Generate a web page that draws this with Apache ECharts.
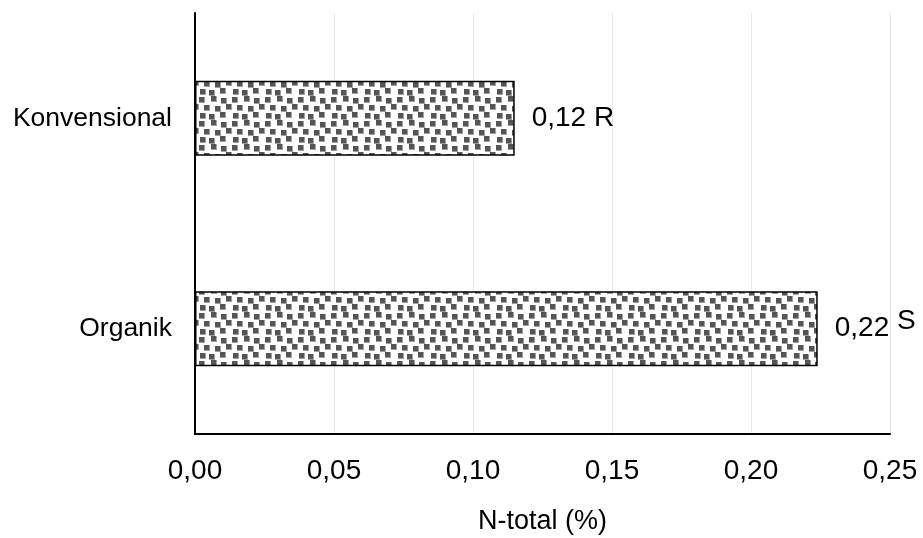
<!DOCTYPE html>
<html>
<head>
<meta charset="utf-8">
<script src="https://cdn.jsdelivr.net/npm/echarts@6/dist/echarts.min.js"></script>
<style>
  html, body { margin: 0; padding: 0; background: #fff; }
  #chart { width: 923px; height: 538px; }
</style>
</head>
<body>
<div id="chart"></div>
<script>
  // kategori dan nilai N-total
  const categories = ['Organik', 'Konvensional']
  const values = [0.224, 0.115]
  const valueLabels = ['0,22', '0,12']
  const letters = ['S', 'R']

  // pola confetti untuk isi batang
  function makePattern() {
    const w = 33
    const h = 24
    const c = document.createElement('canvas')
    c.width = w
    c.height = h
    const ctx = c.getContext('2d')
    ctx.fillStyle = '#fff'
    ctx.fillRect(0, 0, w, h)
    const sq = [
      [1, 1], [13, 0], [23, 2],
      [6, 9], [17, 10], [28, 8],
      [2, 17], [11, 18], [22, 16]
    ]
    sq.forEach(p => {
      for (let dx = -w; dx <= 0; dx += w) {
        for (let dy = -h; dy <= 0; dy += h) {
          const x = p[0] + dx
          const y = p[1] + dy
          ;[[x, y], [x + w, y], [x, y + h], [x + w, y + h]].forEach(q => {
            ctx.fillStyle = '#a0a0a0'
            ctx.fillRect(q[0], q[1], 6, 6)
            ctx.fillStyle = '#555'
            ctx.fillRect(q[0], q[1], 5, 5)
          })
        }
      }
    })
    return c
  }

  const font = 'Liberation Sans, Arial, sans-serif'
  const chart = echarts.init(document.getElementById('chart'))
  chart.setOption({
    animation: false,
    grid: { left: 195, right: 33, top: 13, bottom: 104, containLabel: false, outerBoundsMode: 'none' },
    xAxis: {
      type: 'value',
      min: 0,
      max: 0.25,
      interval: 0.05,
      name: 'N-total (%)',
      nameLocation: 'middle',
      nameGap: 74,
      nameTextStyle: { fontFamily: font, fontSize: 27, color: '#000' },
      axisLine: { show: true, lineStyle: { color: '#000', width: 2 } },
      axisTick: { show: false },
      axisLabel: {
        fontFamily: font,
        fontSize: 28,
        color: '#000',
        margin: 23,
        showMaxLabel: true,
        formatter: v => v.toFixed(2).replace('.', ',')
      },
      splitLine: { show: true, lineStyle: { color: '#e8e8e8', width: 1 } }
    },
    yAxis: {
      type: 'category',
      data: categories,
      axisLine: { show: true, lineStyle: { color: '#000', width: 2 } },
      axisTick: { show: false },
      axisLabel: { fontFamily: font, fontSize: 26.5, color: '#000', margin: 23 }
    },
    series: [
      {
        type: 'bar',
        data: values,
        barWidth: 75,
        itemStyle: {
          color: { image: makePattern(), repeat: 'repeat' },
          borderColor: '#000',
          borderWidth: 1.5
        },
        label: {
          show: true,
          position: 'right',
          distance: 17,
          fontFamily: font,
          fontSize: 28,
          color: '#000',
          formatter: p => p.dataIndex === 0
            ? '{a|' + valueLabels[0] + '} {b|' + letters[0] + '}'
            : valueLabels[1] + ' ' + letters[1],
          rich: {
            a: { fontFamily: font, fontSize: 28, color: '#000' },
            b: { fontFamily: font, fontSize: 28, color: '#000', padding: [0, 0, 15, 0] }
          }
        }
      }
    ]
  })
</script>
</body>
</html>
